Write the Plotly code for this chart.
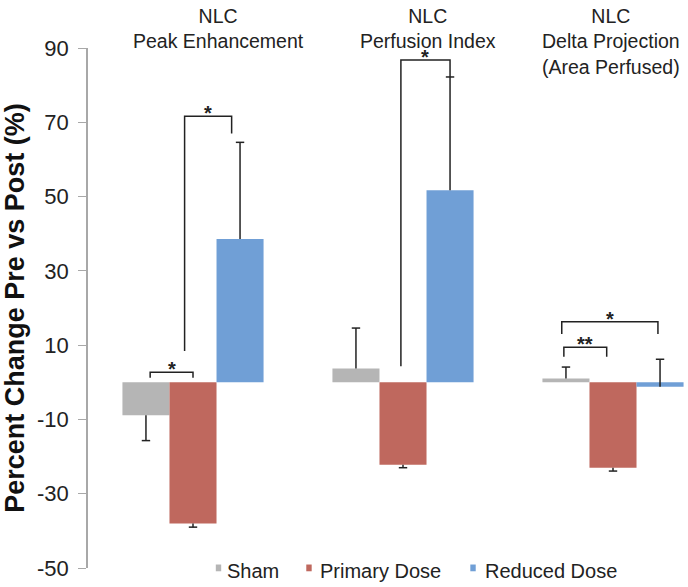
import plotly.graph_objects as go

# ---- data ----
groups = ["NLC<br>Peak Enhancement", "NLC<br>Perfusion Index", "NLC<br>Delta Projection<br>(Area Perfused)"]
series_names = ["Sham", "Primary Dose", "Reduced Dose"]
sham = [-8.9, 3.7, 1.0]
sham_err_up = [0.0, 10.9, 3.1]
sham_err_down = [6.8, 0.0, 0.0]
primary = [-38.0, -22.2, -23.0]
primary_err_up = [0.0, 0.0, 0.0]
primary_err_down = [1.0, 0.8, 0.9]
reduced = [38.6, 51.7, -1.2]
reduced_err_up = [26.0, 30.5, 7.4]
reduced_err_down = [0.0, 0.0, 0.0]
y_ticks = [-50, -30, -10, 10, 30, 50, 70, 90]
y_tick_labels = ["-50", "-30", "-10", "10", "30", "50", "70", "90"]

# significance brackets: (group, left series, right series, top y, left end y, right end y, label, left dx, right dx)
brackets = [
    (0, 0, 1, 2.7, 1.2, 1.2, "*", 0.02, 0.0),
    (0, 1, 2, 71.6, 8.4, 67.0, "*", -0.04, -0.04),
    (1, 1, 2, 86.8, 4.3, 82.2, "*", -0.01, 0.0),
    (2, 0, 1, 9.4, 6.9, 6.9, "**", -0.01, -0.03),
    (2, 0, 2, 16.3, 13.0, 13.0, "*", -0.02, -0.01),
]

colors = ["#b5b5b5", "#bf685e", "#709fd6"]
values = [sham, primary, reduced]
errs_up = [sham_err_up, primary_err_up, reduced_err_up]
errs_dn = [sham_err_down, primary_err_down, reduced_err_down]

BW = 0.224
offsets = [-BW, 0.0, BW]
CAP = 0.02
INK = "#222222"
FONT = "Liberation Sans, Arial, sans-serif"
title_dx = [0.12, 0.12, -0.01]
# legend layout (paper x of square centre, paper x of text start)
legend_sq_x = [0.2175, 0.3683, 0.6417]
legend_tx_x = [0.2283, 0.3833, 0.6583]

fig = go.Figure()
gx = list(range(len(groups)))

for s, name in enumerate(series_names):
    xs = [g + offsets[s] for g in gx]
    fig.add_trace(go.Bar(x=xs, y=values[s], width=BW, name=name, showlegend=False,
                         marker=dict(color=colors[s], line=dict(width=0))))

# error bars (one-sided) drawn as lines
ex, ey = [], []
for s in range(3):
    for g in gx:
        x = g + offsets[s]
        v = values[s][g]
        for e in (errs_up[s][g], -errs_dn[s][g]):
            if e != 0:
                end = v + e
                ex += [x, x, None, x - CAP, x + CAP, None]
                ey += [v, end, None, end, end, None]
fig.add_trace(go.Scatter(x=ex, y=ey, mode="lines", line=dict(color=INK, width=1.5),
                         showlegend=False, hoverinfo="skip"))

# brackets
bx, by = [], []
for g, a, b, top, yl, yr, lab, dxl, dxr in brackets:
    x0 = g + offsets[a] + dxl
    x1 = g + offsets[b] + dxr
    bx += [x0, x0, x1, x1, None]
    by += [yl, top, top, yr, None]
    fig.add_annotation(x=(x0 + x1) / 2, y=top, xref="x", yref="y", text="<b>" + lab + "</b>",
                       showarrow=False, yanchor="bottom", yshift=-9, borderpad=0,
                       font=dict(size=20, color=INK, family=FONT))
fig.add_trace(go.Scatter(x=bx, y=by, mode="lines", line=dict(color=INK, width=1.5),
                         showlegend=False, hoverinfo="skip"))

# group titles
for g, t, d in zip(gx, groups, title_dx):
    fig.add_annotation(x=g + d, y=1.085, xref="x", yref="paper", text=t,
                       showarrow=False, yanchor="top", align="center", borderpad=0,
                       font=dict(size=19.5, color=INK, family=FONT))

# custom legend
LY = -0.0058
for s, name in enumerate(series_names):
    fig.add_shape(type="rect", xref="paper", yref="paper",
                  x0=legend_sq_x[s] - 0.0045, x1=legend_sq_x[s] + 0.0045,
                  y0=LY - 0.0005, y1=LY + 0.0125,
                  fillcolor=colors[s], line=dict(width=0))
    fig.add_annotation(x=legend_tx_x[s], y=LY, xref="paper", yref="paper", text=name,
                       showarrow=False, xanchor="left", yanchor="middle",
                       font=dict(size=20, color=INK, family=FONT))

fig.update_layout(
    width=688, height=587,
    margin=dict(l=88, r=0, t=48, b=19, autoexpand=False),
    paper_bgcolor="white", plot_bgcolor="white",
    barmode="overlay",
    font=dict(family=FONT, color=INK),
    showlegend=False,
    xaxis=dict(range=[-0.5, -0.5 + 600 / 210], showticklabels=False, showline=False,
               showgrid=False, zeroline=False, ticks=""),
    yaxis=dict(range=[-50, 90], tickvals=y_ticks, ticktext=y_tick_labels,
               ticks="outside", ticklen=8,
               tickcolor="#a8a8a8", showline=True, linecolor="#a8a8a8", linewidth=1.5,
               showgrid=False, zeroline=False, ticklabelstandoff=5,
               tickfont=dict(size=22, color=INK, family=FONT),
               title=dict(text="<b>Percent Change Pre vs Post (%)</b>", standoff=9,
                          font=dict(size=27, color="#111111", family=FONT))),
)

# remove the default page margin so the figure starts at the window corner
fig.write_html("out.html", config={"displayModeBar": False},
               post_script="document.body.style.margin='0';")
